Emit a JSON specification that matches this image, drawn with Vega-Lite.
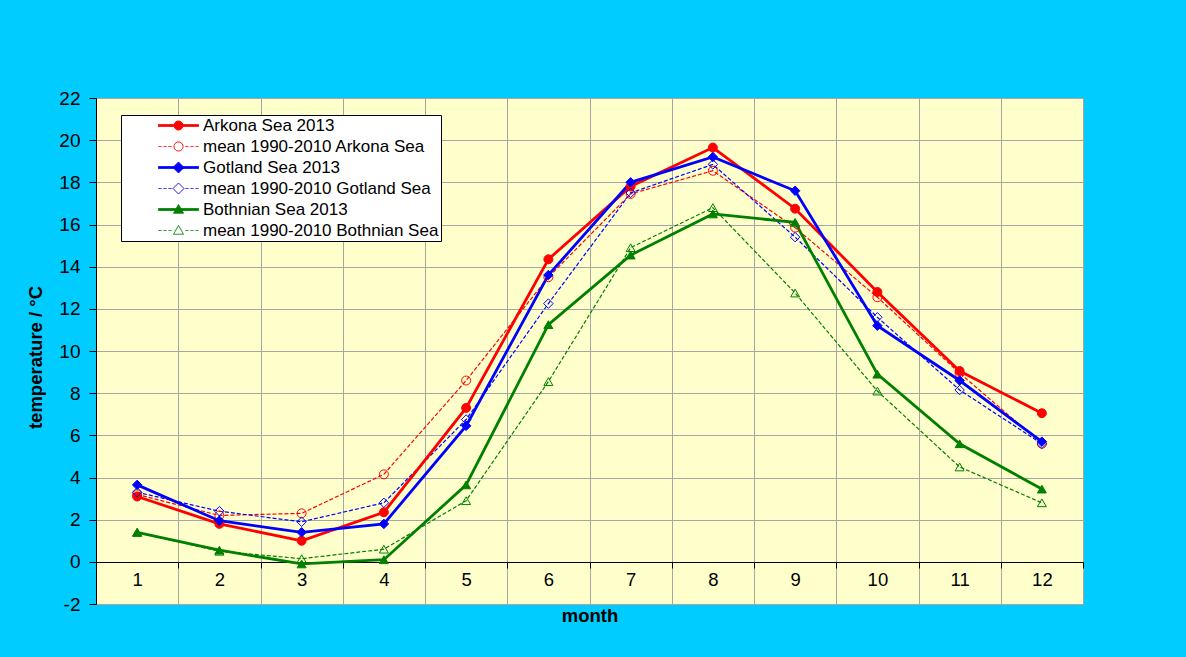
{
  "$schema": "https://vega.github.io/schema/vega-lite/v6.json",
  "width": 987,
  "height": 506,
  "autosize": {"type": "none"},
  "padding": {"left": 96, "top": 98, "right": 103, "bottom": 53},
  "background": "#00CCFF",
  "config": {
    "font": "Liberation Sans",
    "view": {"fill": "#FFFFCC", "stroke": "#8C8C8C", "strokeWidth": 1},
    "axis": {
      "labelFont": "Liberation Sans",
      "titleFont": "Liberation Sans",
      "labelColor": "#000000",
      "titleColor": "#000000",
      "gridColor": "#A6A6A6",
      "gridWidth": 1,
      "domainColor": "#000000",
      "domainWidth": 1,
      "tickColor": "#000000",
      "tickWidth": 1
    },
    "legend": {
      "title": null,
      "orient": "none",
      "legendX": 25,
      "legendY": 17,
      "fillColor": "#FFFFFF",
      "strokeColor": "#000000",
      "padding": 2,
      "labelFont": "Liberation Sans",
      "labelFontSize": 17,
      "labelColor": "#000000",
      "labelLimit": 400,
      "symbolSize": 100,
      "symbolStrokeWidth": 1,
      "symbolOpacity": 1,
      "symbolOffset": 47,
      "labelOffset": 16,
      "rowPadding": 3
    }
  },
  "data": {
    "values": [
      {"month": 1, "series": "Arkona Sea 2013", "temp": 3.1},
      {"month": 2, "series": "Arkona Sea 2013", "temp": 1.8},
      {"month": 3, "series": "Arkona Sea 2013", "temp": 1.0},
      {"month": 4, "series": "Arkona Sea 2013", "temp": 2.35},
      {"month": 5, "series": "Arkona Sea 2013", "temp": 7.3},
      {"month": 6, "series": "Arkona Sea 2013", "temp": 14.35},
      {"month": 7, "series": "Arkona Sea 2013", "temp": 17.8},
      {"month": 8, "series": "Arkona Sea 2013", "temp": 19.65},
      {"month": 9, "series": "Arkona Sea 2013", "temp": 16.75},
      {"month": 10, "series": "Arkona Sea 2013", "temp": 12.8},
      {"month": 11, "series": "Arkona Sea 2013", "temp": 9.05},
      {"month": 12, "series": "Arkona Sea 2013", "temp": 7.05},
      {"month": 1, "series": "mean 1990-2010 Arkona Sea", "temp": 3.2},
      {"month": 2, "series": "mean 1990-2010 Arkona Sea", "temp": 2.2},
      {"month": 3, "series": "mean 1990-2010 Arkona Sea", "temp": 2.3},
      {"month": 4, "series": "mean 1990-2010 Arkona Sea", "temp": 4.15},
      {"month": 5, "series": "mean 1990-2010 Arkona Sea", "temp": 8.6},
      {"month": 6, "series": "mean 1990-2010 Arkona Sea", "temp": 13.5},
      {"month": 7, "series": "mean 1990-2010 Arkona Sea", "temp": 17.45},
      {"month": 8, "series": "mean 1990-2010 Arkona Sea", "temp": 18.55},
      {"month": 9, "series": "mean 1990-2010 Arkona Sea", "temp": 15.85},
      {"month": 10, "series": "mean 1990-2010 Arkona Sea", "temp": 12.55},
      {"month": 11, "series": "mean 1990-2010 Arkona Sea", "temp": 8.95},
      {"month": 12, "series": "mean 1990-2010 Arkona Sea", "temp": 5.6},
      {"month": 1, "series": "Gotland Sea 2013", "temp": 3.65},
      {"month": 2, "series": "Gotland Sea 2013", "temp": 1.95},
      {"month": 3, "series": "Gotland Sea 2013", "temp": 1.4},
      {"month": 4, "series": "Gotland Sea 2013", "temp": 1.8},
      {"month": 5, "series": "Gotland Sea 2013", "temp": 6.45},
      {"month": 6, "series": "Gotland Sea 2013", "temp": 13.6},
      {"month": 7, "series": "Gotland Sea 2013", "temp": 18.0},
      {"month": 8, "series": "Gotland Sea 2013", "temp": 19.2},
      {"month": 9, "series": "Gotland Sea 2013", "temp": 17.6},
      {"month": 10, "series": "Gotland Sea 2013", "temp": 11.2},
      {"month": 11, "series": "Gotland Sea 2013", "temp": 8.6},
      {"month": 12, "series": "Gotland Sea 2013", "temp": 5.7},
      {"month": 1, "series": "mean 1990-2010 Gotland Sea", "temp": 3.3},
      {"month": 2, "series": "mean 1990-2010 Gotland Sea", "temp": 2.4},
      {"month": 3, "series": "mean 1990-2010 Gotland Sea", "temp": 1.9},
      {"month": 4, "series": "mean 1990-2010 Gotland Sea", "temp": 2.8},
      {"month": 5, "series": "mean 1990-2010 Gotland Sea", "temp": 6.75},
      {"month": 6, "series": "mean 1990-2010 Gotland Sea", "temp": 12.25},
      {"month": 7, "series": "mean 1990-2010 Gotland Sea", "temp": 17.5},
      {"month": 8, "series": "mean 1990-2010 Gotland Sea", "temp": 18.85},
      {"month": 9, "series": "mean 1990-2010 Gotland Sea", "temp": 15.4},
      {"month": 10, "series": "mean 1990-2010 Gotland Sea", "temp": 11.6},
      {"month": 11, "series": "mean 1990-2010 Gotland Sea", "temp": 8.15},
      {"month": 12, "series": "mean 1990-2010 Gotland Sea", "temp": 5.6},
      {"month": 1, "series": "Bothnian Sea 2013", "temp": 1.4},
      {"month": 2, "series": "Bothnian Sea 2013", "temp": 0.55},
      {"month": 3, "series": "Bothnian Sea 2013", "temp": -0.1},
      {"month": 4, "series": "Bothnian Sea 2013", "temp": 0.1},
      {"month": 5, "series": "Bothnian Sea 2013", "temp": 3.65},
      {"month": 6, "series": "Bothnian Sea 2013", "temp": 11.25},
      {"month": 7, "series": "Bothnian Sea 2013", "temp": 14.55},
      {"month": 8, "series": "Bothnian Sea 2013", "temp": 16.5},
      {"month": 9, "series": "Bothnian Sea 2013", "temp": 16.1},
      {"month": 10, "series": "Bothnian Sea 2013", "temp": 8.9},
      {"month": 11, "series": "Bothnian Sea 2013", "temp": 5.6},
      {"month": 12, "series": "Bothnian Sea 2013", "temp": 3.45},
      {"month": 1, "series": "mean 1990-2010 Bothnian Sea", "temp": 1.4},
      {"month": 2, "series": "mean 1990-2010 Bothnian Sea", "temp": 0.5},
      {"month": 3, "series": "mean 1990-2010 Bothnian Sea", "temp": 0.15},
      {"month": 4, "series": "mean 1990-2010 Bothnian Sea", "temp": 0.6},
      {"month": 5, "series": "mean 1990-2010 Bothnian Sea", "temp": 2.9},
      {"month": 6, "series": "mean 1990-2010 Bothnian Sea", "temp": 8.55},
      {"month": 7, "series": "mean 1990-2010 Bothnian Sea", "temp": 14.9},
      {"month": 8, "series": "mean 1990-2010 Bothnian Sea", "temp": 16.8},
      {"month": 9, "series": "mean 1990-2010 Bothnian Sea", "temp": 12.75},
      {"month": 10, "series": "mean 1990-2010 Bothnian Sea", "temp": 8.1},
      {"month": 11, "series": "mean 1990-2010 Bothnian Sea", "temp": 4.5},
      {"month": 12, "series": "mean 1990-2010 Bothnian Sea", "temp": 2.8}
    ]
  },
  "encoding": {
    "x": {
      "field": "month",
      "type": "quantitative",
      "scale": {"domain": [0.5, 12.5], "nice": false, "zero": false},
      "axis": {
        "values": [0.5, 1, 1.5, 2, 2.5, 3, 3.5, 4, 4.5, 5, 5.5, 6, 6.5, 7, 7.5, 8, 8.5, 9, 9.5, 10, 10.5, 11, 11.5, 12, 12.5],
        "labelExpr": "datum.value % 1 === 0 ? toString(datum.value) : ''",
        "offset": -42,
        "tickSize": 6,
        "tickOpacity": {"condition": {"test": "datum.value % 1 === 0", "value": 0}, "value": 1},
        "gridOpacity": {"condition": {"test": "datum.value % 1 === 0", "value": 0}, "value": 1},
        "labelFontSize": 18.5,
        "labelPadding": 2,
        "labelFlush": false,
        "labelOverlap": false,
        "title": "month",
        "titleFontSize": 18.5,
        "titleFontWeight": "bold",
        "titleY": 53,
        "titleBaseline": "middle"
      }
    },
    "y": {
      "field": "temp",
      "type": "quantitative",
      "scale": {"domain": [-2, 22], "nice": false, "zero": false},
      "axis": {
        "values": [-2, 0, 2, 4, 6, 8, 10, 12, 14, 16, 18, 20, 22],
        "labelExpr": "toString(datum.value)",
        "tickSize": 7,
        "labelFontSize": 19,
        "labelPadding": 9,
        "labelFlush": false,
        "labelOverlap": false,
        "title": "temperature / °C",
        "titleFontSize": 18.5,
        "titleFontWeight": "bold",
        "titleX": -61,
        "titleY": 259,
        "titleBaseline": "middle",
        "titleAngle": -90
      }
    },
    "stroke": {
      "field": "series",
      "type": "nominal",
      "scale": {
        "domain": ["Arkona Sea 2013", "mean 1990-2010 Arkona Sea", "Gotland Sea 2013", "mean 1990-2010 Gotland Sea", "Bothnian Sea 2013", "mean 1990-2010 Bothnian Sea"],
        "range": ["#FF0000", "#FF0000", "#0000FF", "#0000FF", "#008000", "#008000"]
      },
      "legend": {
        "encode": {
          "symbols": {
            "update": {
              "shape": {"signal": "(indexof(datum.value,'mean')===0 ? 'M-4,0H-3.4M-3,0H-2.4M-2,0H-1.4M1.4,0H2M2.4,0H3M3.4,0H4 ' : 'M-4,-0.2H4V0.2H-4Z ') + (indexof(datum.value,'Arkona')>=0 ? 'M0.9,0A0.9,0.9,0,1,1,-0.9,0A0.9,0.9,0,1,1,0.9,0Z' : indexof(datum.value,'Gotland')>=0 ? 'M0,-1.1L1.1,0L0,1.1L-1.1,0Z' : 'M0,-1L1,0.75L-1,0.75Z')"},
              "strokeDash": {"value": [1, 0]},
              "strokeWidth": {"value": 1},
              "opacity": {"value": 1}
            }
          }
        }
      }
    }
  },
  "layer": [
    {
      "transform": [{"filter": "indexof(datum.series, 'mean') === 0"}],
      "mark": {"type": "line", "strokeWidth": 1.2, "strokeDash": [4, 2]}
    },
    {
      "transform": [{"filter": "indexof(datum.series, 'mean') !== 0"}],
      "mark": {"type": "line", "strokeWidth": 2.8}
    },
    {
      "transform": [{"filter": "indexof(datum.series, 'Arkona') >= 0"}],
      "mark": {"type": "point", "shape": "circle", "filled": true, "opacity": 1, "size": 80, "strokeWidth": 1},
      "encoding": {
        "fill": {
          "field": "series",
          "type": "nominal",
          "scale": {
            "domain": ["Arkona Sea 2013", "mean 1990-2010 Arkona Sea", "Gotland Sea 2013", "mean 1990-2010 Gotland Sea", "Bothnian Sea 2013", "mean 1990-2010 Bothnian Sea"],
            "range": ["#FF0000", "transparent", "#0000FF", "transparent", "#008000", "transparent"]
          }
        }
      }
    },
    {
      "transform": [{"filter": "indexof(datum.series, 'Gotland') >= 0"}],
      "mark": {"type": "point", "shape": "diamond", "filled": true, "opacity": 1, "size": 90, "strokeWidth": 1},
      "encoding": {
        "fill": {
          "field": "series",
          "type": "nominal",
          "scale": {
            "domain": ["Arkona Sea 2013", "mean 1990-2010 Arkona Sea", "Gotland Sea 2013", "mean 1990-2010 Gotland Sea", "Bothnian Sea 2013", "mean 1990-2010 Bothnian Sea"],
            "range": ["#FF0000", "transparent", "#0000FF", "transparent", "#008000", "transparent"]
          }
        }
      }
    },
    {
      "transform": [{"filter": "indexof(datum.series, 'Bothnian') >= 0"}],
      "mark": {"type": "point", "shape": "triangle-up", "filled": true, "opacity": 1, "size": 80, "strokeWidth": 1},
      "encoding": {
        "fill": {
          "field": "series",
          "type": "nominal",
          "scale": {
            "domain": ["Arkona Sea 2013", "mean 1990-2010 Arkona Sea", "Gotland Sea 2013", "mean 1990-2010 Gotland Sea", "Bothnian Sea 2013", "mean 1990-2010 Bothnian Sea"],
            "range": ["#FF0000", "transparent", "#0000FF", "transparent", "#008000", "transparent"]
          }
        }
      }
    }
  ]
}
